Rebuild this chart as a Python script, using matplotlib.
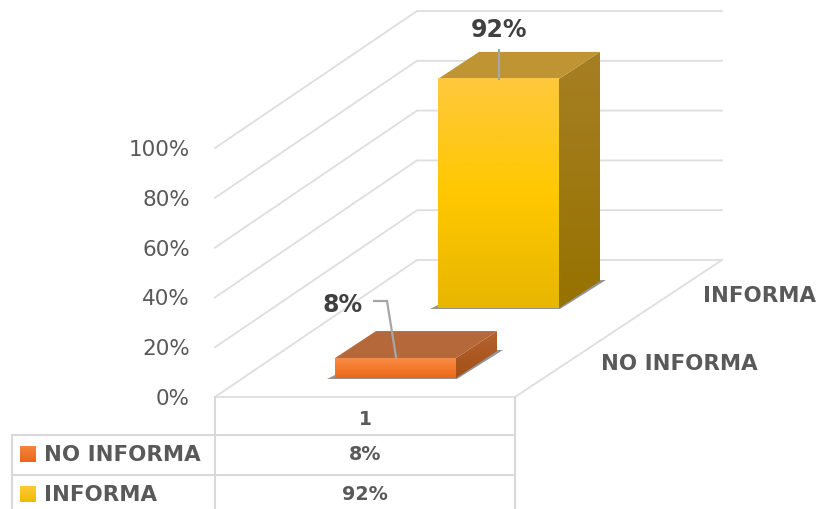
import numpy as np
import matplotlib
matplotlib.use("Agg")
import matplotlib.pyplot as plt
from matplotlib.patches import Polygon
from matplotlib.colors import LinearSegmentedColormap

plt.rcParams['font.family'] = ['DejaVu Sans']

series_names = ["NO INFORMA", "INFORMA"]
series_values = [8, 92]
value_labels = ["8%", "92%"]
y_ticks = [0, 20, 40, 60, 80, 100]
y_tick_labels = ["0%", "20%", "40%", "60%", "80%", "100%"]
category_label = "1"

W, H = 819, 510
fig = plt.figure(figsize=(W/100, H/100), dpi=100)
ax = fig.add_axes([0, 0, 1, 1])


def set_view():
    ax.set_xlim(0, W); ax.set_ylim(H - 1, -1)

set_view(); ax.axis('off')

GRID = '#dedede'; TXT = '#595959'; DARK = '#404040'
# 3D scene geometry in pixels
X0, X1, XR = 215, 515, 722
Y0, PX_PER_PCT = 397, 2.49
DX, DY = 202, -137


def ypx(v):
    return Y0 - v * PX_PER_PCT

# walls and floor
for t in y_ticks:
    y = ypx(t)
    ax.plot([X0, X0 + DX, XR], [y, y + DY, y + DY], color=GRID, lw=1.3, zorder=1, solid_joinstyle='miter')
    ax.text(190, y + 1, y_tick_labels[t // 20], ha='right', va='center', fontsize=15.5, color=TXT)
ax.plot([X0, X1, XR], [Y0, Y0, Y0 + DY], color=GRID, lw=1.3, zorder=1)

# table
tc = '#d9d9d9'
ax.plot([X0, X0], [Y0, H], color=tc, lw=1.5, zorder=1)
ax.plot([X1, X1], [Y0, H], color=tc, lw=1.5, zorder=1)
ax.plot([12, 12], [435, H], color=tc, lw=1.5, zorder=1)
for y, x in [(435, 12), (475, 12)]:
    ax.plot([x, X1], [y, y], color=tc, lw=1.5, zorder=1)
ax.text((X0 + X1) / 2, 419, category_label, ha='center', va='center', fontsize=13.5, fontweight='bold', color=TXT)


def gradient(box, stops, zorder):
    cm = LinearSegmentedColormap.from_list('g', stops)
    x0, x1, y0, y1 = box
    im = ax.imshow(np.linspace(0, 1, 256)[:, None], cmap=cm, extent=[x0, x1, y1, y0],
                   aspect='auto', zorder=zorder, interpolation='bilinear')
    set_view()
    return im

# bars: (front-left x, floor y)
BW, BDX, BDY = 121, 41, -27
bars = [
    dict(x=335, y=378, top='#b5683a', side=('#b5622f', '#a34f17'),
         front=['#f98b45', '#f47a2c', '#e9691c'], swatch=['#f7843e', '#e8681b'], ty=454, lx=601, ly=363,
         leg=[(396, 357), (387, 301), (374, 301)], lab=(343, 304)),
    dict(x=438, y=308, top='#bf9533', side=('#a77f24', '#967200'),
         front=['#ffc83d', '#ffc800', '#e8b600'], swatch=['#ffc93a', '#f0bb00'], ty=494, lx=703, ly=295,
         leg=[(499, 79), (499, 50)], lab=(499, 29)),
]
for b, v, name, lab in zip(bars, series_values, series_names, value_labels):
    x, y = b['x'], b['y']
    yt = y - v * PX_PER_PCT
    # floor shadow
    ax.add_patch(Polygon([(x - 8, y + 1), (x + BW + 1, y + 1), (x + BW + BDX + 6, y + BDY - 1), (x + BW + BDX, y + BDY - 1), (x + BW, y - 3), (x, y - 3)],
                         closed=True, fc='#5a5a5a', ec='none', alpha=.65, zorder=2))
    # side face
    im = gradient((x + BW, x + BW + BDX, yt + BDY, y), b['side'], 3)
    im.set_clip_path(Polygon([(x + BW, yt), (x + BW + BDX, yt + BDY), (x + BW + BDX, y + BDY), (x + BW, y)], transform=ax.transData))
    # top face
    ax.add_patch(Polygon([(x, yt), (x + BDX, yt + BDY), (x + BW + BDX, yt + BDY), (x + BW, yt)], closed=True, fc=b['top'], ec='none', zorder=4))
    # front face
    gradient((x, x + BW, yt, y), b['front'], 5)
    # leader and label
    lx, ly = zip(*b['leg'])
    ax.plot(lx, ly, color='#a6a6a6', lw=1.6, zorder=6, solid_joinstyle='miter')
    ax.text(b['lab'][0], b['lab'][1], lab, ha='center', va='center', fontsize=17, fontweight='bold', color=DARK, zorder=7)
    # depth axis label
    ax.text(b['lx'], b['ly'], name, ha='left', va='center', fontsize=15.4, fontweight='bold', color=TXT)
    # table row
    ax.text(44, b['ty'], name, ha='left', va='center', fontsize=15.4, fontweight='bold', color=TXT)
    ax.text((X0 + X1) / 2, b['ty'], lab, ha='center', va='center', fontsize=13.8, fontweight='bold', color=TXT)
    gradient((20, 36, b['ty'] - 8, b['ty'] + 8), b['swatch'], 5)

set_view()
fig.savefig('out.png', dpi=100, facecolor='white')
